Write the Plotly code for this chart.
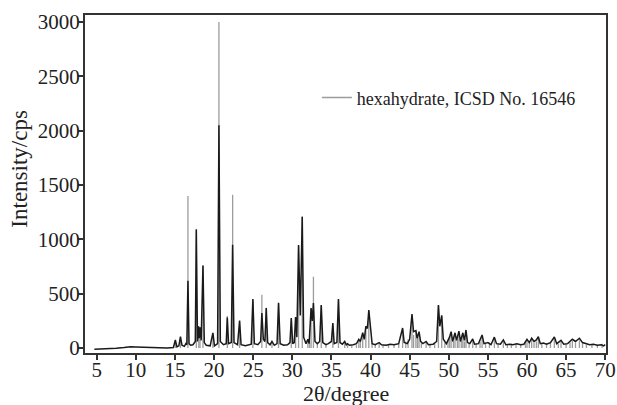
import plotly.graph_objects as go

# Measured pattern (2theta in degrees, intensity in cps), vertices
meas_2theta = [4.7, 5.5, 6.5, 7.5, 8.5, 9.3, 10.0, 11.0, 12.0, 13.0, 14.0, 14.8,
               15.05, 15.25, 15.5, 15.7, 15.9, 16.2, 16.4, 16.52, 16.66, 16.8, 17.0, 17.3, 17.6,
               17.73, 17.88, 18.0, 18.1, 18.2, 18.35, 18.58, 18.75, 19.0, 19.5, 19.85, 20.05,
               20.45, 20.62, 20.8, 21.2, 21.55, 21.69, 21.85, 22.2, 22.37, 22.55, 23.0, 23.26,
               23.45, 24.0, 24.75, 24.96, 25.15, 25.6, 25.95, 26.11, 26.3, 26.5, 26.67, 26.85,
               27.15, 27.4, 27.7, 28.05, 28.24, 28.45, 28.9, 29.4, 29.7, 29.87, 30.05, 30.25,
               30.42, 30.58, 30.8, 31.02, 31.27, 31.45, 31.75, 31.99, 32.15, 32.4, 32.55, 32.7,
               32.9, 33.2, 33.5, 33.7, 33.9, 34.3, 34.6, 35.0, 35.18, 35.35, 35.7, 35.9, 36.1,
               36.4, 36.7, 36.9, 37.06, 37.3, 37.8, 38.2, 38.5, 38.7, 39.0, 39.2, 39.4, 39.6,
               39.78, 39.95, 40.2, 40.6, 41.1, 41.4, 42.0, 42.5, 43.0, 43.6, 44.1, 44.3, 44.7,
               45.0, 45.3, 45.5, 45.8, 45.95, 46.2, 46.4, 46.7, 47.1, 47.4, 48.0, 48.45, 48.68,
               48.85, 49.1, 49.3, 49.7, 50.1, 50.3, 50.5, 50.8, 51.0, 51.3, 51.5, 51.8, 52.0,
               52.2, 52.4, 52.7, 53.06, 53.3, 53.8, 54.26, 54.5, 55.0, 55.4, 55.83, 56.1, 56.6,
               56.98, 57.3, 57.8, 58.2, 58.7, 59.2, 59.6, 60.0, 60.3, 60.6, 60.9, 61.2, 61.45,
               61.7, 62.1, 62.5, 63.0, 63.5, 63.8, 64.35, 64.7, 65.2, 65.8, 66.2, 66.7, 67.1,
               67.5, 68.0, 68.5, 69.0, 69.5, 69.8, 70.0]
meas_counts = [-12, -10, -6, -2, 5, 12, 10, 6, 4, 2, 0, 5,
               74, 10, 20, 104, 25, 15, 40, 30, 620, 40, 25, 30, 60,
               1090, 60, 200, 90, 190, 70, 760, 50, 25, 20, 140, 20,
               40, 2050, 60, 30, 40, 280, 40, 50, 950, 50, 30, 250,
               30, 20, 35, 450, 40, 30, 60, 322, 80, 60, 368, 50,
               30, 60, 25, 40, 417, 40, 25, 30, 50, 276, 40, 50,
               285, 100, 948, 300, 1208, 100, 40, 80, 40, 368, 250, 414,
               60, 40, 60, 396, 50, 30, 40, 60, 230, 40, 50, 451, 50,
               35, 60, 30, 40, 25, 30, 40, 80, 60, 140, 80, 200, 180,
               350, 200, 40, 30, 50, 30, 25, 35, 30, 40, 184, 50, 40,
               80, 313, 150, 160, 90, 150, 60, 40, 60, 30, 35, 60, 396,
               200, 300, 80, 40, 100, 150, 60, 140, 70, 155, 60, 140, 70,
               166, 50, 40, 83, 35, 40, 120, 40, 50, 30, 100, 40, 35,
               75, 30, 35, 30, 40, 30, 35, 80, 50, 90, 60, 75, 104,
               40, 45, 35, 50, 101, 40, 70, 35, 40, 80, 60, 90, 50,
               40, 30, 35, 25, 30, 20, 30, 110]

# Reference stick pattern (hexahydrate, ICSD No. 16546)
ref_2theta = [15.05, 15.7, 16.66, 17.73, 18.05, 18.2, 18.58, 19.85, 20.62, 21.69, 22.37, 23.26,
              24.96, 26.11, 26.67, 27.4, 28.24, 29.87, 30.42, 30.8, 31.27, 31.99, 32.2, 32.4,
              32.7, 33.2, 33.7, 34.3, 35.18, 35.9, 36.7, 37.06, 37.6, 38.2, 38.5, 38.7, 39.0,
              39.4, 39.78, 40.2, 40.6, 41.1, 41.6, 42.3, 43.0, 43.6, 44.1, 44.5, 44.8, 45.3,
              45.5, 45.8, 46.0, 46.2, 46.5, 47.1, 47.6, 48.2, 48.68, 49.1, 49.5, 49.9, 50.1,
              50.3, 50.6, 50.8, 51.1, 51.3, 51.6, 51.8, 52.0, 52.2, 52.6, 53.06, 53.5, 54.0,
              54.26, 54.7, 55.2, 55.83, 56.3, 56.98, 57.5, 58.0, 58.6, 59.2, 59.8, 60.0, 60.3,
              60.6, 60.9, 61.2, 61.45, 61.9, 62.5, 63.0, 63.5, 64.0, 64.35, 65.0, 65.5, 65.8,
              66.2, 66.7, 67.1, 67.6, 68.3, 69.0, 69.6]
ref_counts = [60, 90, 1400, 1095, 200, 180, 760, 130, 3000, 295, 1410, 255,
              440, 490, 370, 60, 410, 270, 280, 940, 1210, 70, 50, 360,
              656, 40, 390, 30, 225, 445, 50, 40, 20, 30, 70, 60, 130,
              190, 340, 40, 30, 45, 25, 30, 35, 40, 170, 60, 80, 300,
              120, 150, 100, 140, 60, 50, 30, 40, 390, 290, 50, 70, 90,
              130, 60, 120, 80, 140, 70, 120, 60, 150, 50, 70, 40, 60,
              100, 40, 50, 80, 40, 60, 30, 40, 30, 35, 50, 70, 60,
              80, 50, 60, 90, 40, 45, 50, 80, 40, 55, 40, 50, 65,
              50, 70, 45, 30, 35, 30, 40]

x_ticks = [5, 10, 15, 20, 25, 30, 35, 40, 45, 50, 55, 60, 65, 70]
y_ticks = [0, 500, 1000, 1500, 2000, 2500, 3000]

stick_x, stick_y = [], []
for p, v in zip(ref_2theta, ref_counts):
    stick_x += [p, p, None]
    stick_y += [0, v, None]

fig = go.Figure()
fig.add_trace(go.Scatter(x=stick_x, y=stick_y, mode="lines",
                         line=dict(color="#9c9c9c", width=1.3),
                         name="hexahydrate, ICSD No. 16546", showlegend=True))
fig.add_trace(go.Scatter(x=meas_2theta, y=meas_counts, mode="lines",
                         line=dict(color="#1a1a1a", width=1.5),
                         name="measured", showlegend=False))

font_family = "Liberation Serif"
fig.update_layout(
    width=617, height=405,
    margin=dict(l=85, r=11, t=15, b=52, autoexpand=False),
    paper_bgcolor="white", plot_bgcolor="white",
    font=dict(family=font_family, color="#222", size=21),
    legend=dict(x=0.445, y=0.755, xanchor="left", yanchor="middle",
                bgcolor="rgba(0,0,0,0)", font=dict(size=18, family=font_family, color="#222"),
                itemwidth=30),
    showlegend=True,
    annotations=[
        dict(text="Intensity/cps", xref="paper", yref="paper", x=-0.125, y=0.545,
             textangle=-90, showarrow=False, xanchor="center", yanchor="middle",
             font=dict(size=23, family=font_family, color="#222")),
        dict(text="2θ/degree", xref="paper", yref="paper", x=0.5, y=-0.12,
             showarrow=False, xanchor="center", yanchor="middle",
             font=dict(size=22, family=font_family, color="#222")),
    ],
)
fig.update_xaxes(range=[3.5, 70.1], tickvals=x_ticks, ticktext=[str(t) for t in x_ticks],
                 ticks="outside", ticklen=5, tickwidth=1.5, tickcolor="#333",
                 showline=True, linewidth=2, linecolor="#333", mirror=True,
                 showgrid=False, zeroline=False, automargin=False,
                 ticklabelstandoff=-8,
                 tickfont=dict(size=21, family=font_family, color="#222"))
fig.update_yaxes(range=[-46, 3065], tickvals=y_ticks, ticktext=[str(t) for t in y_ticks],
                 ticks="outside", ticklen=5, tickwidth=1.5, tickcolor="#333",
                 showline=True, linewidth=2, linecolor="#333", mirror=True,
                 showgrid=False, zeroline=False, automargin=False,
                 ticklabelstandoff=-6,
                 tickfont=dict(size=21, family=font_family, color="#222"))

fig.write_html("out.html", config={"displayModeBar": False},
               post_script="document.body.style.margin='0';document.body.style.overflow='hidden';")
